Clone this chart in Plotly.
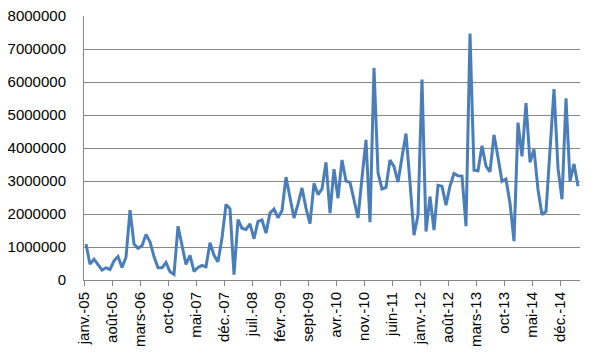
import plotly.graph_objects as go

# Monthly values, janv.-05 .. avr.-15 (124 months)
values = [
    1.09e6, 0.48e6, 0.63e6, 0.45e6, 0.30e6, 0.37e6, 0.32e6, 0.58e6, 0.71e6, 0.38e6, 0.69e6, 2.12e6,
    1.09e6, 0.96e6, 1.04e6, 1.38e6, 1.16e6, 0.71e6, 0.37e6, 0.37e6, 0.53e6, 0.25e6, 0.17e6, 1.63e6,
    1.07e6, 0.47e6, 0.75e6, 0.26e6, 0.38e6, 0.44e6, 0.40e6, 1.13e6, 0.75e6, 0.55e6, 1.27e6, 2.29e6,
    2.16e6, 0.16e6, 1.83e6, 1.57e6, 1.53e6, 1.70e6, 1.25e6, 1.78e6, 1.82e6, 1.42e6, 2.03e6, 2.15e6,
    1.89e6, 2.10e6, 3.12e6, 2.50e6, 1.88e6, 2.30e6, 2.79e6, 2.18e6, 1.71e6, 2.93e6, 2.59e6, 2.76e6,
    3.57e6, 2.03e6, 3.36e6, 2.48e6, 3.64e6, 3.00e6, 2.96e6, 2.43e6, 1.88e6, 3.10e6, 4.25e6, 1.75e6,
    6.43e6, 3.25e6, 2.76e6, 2.81e6, 3.64e6, 3.44e6, 2.97e6, 3.72e6, 4.44e6, 2.95e6, 1.36e6, 1.97e6,
    6.08e6, 1.47e6, 2.53e6, 1.51e6, 2.87e6, 2.84e6, 2.27e6, 2.85e6, 3.23e6, 3.16e6, 3.15e6, 1.63e6,
    7.47e6, 3.33e6, 3.31e6, 4.07e6, 3.45e6, 3.28e6, 4.40e6, 3.72e6, 2.99e6, 3.06e6, 2.33e6, 1.18e6,
    4.77e6, 3.75e6, 5.36e6, 3.57e6, 3.96e6, 2.74e6, 1.98e6, 2.08e6, 4.00e6, 5.79e6, 3.39e6, 2.45e6,
    5.51e6, 2.99e6, 3.52e6, 2.84e6,
]

tick_labels = ["janv.-05", "août-05", "mars-06", "oct-06", "mai-07", "déc.-07",
               "juil.-08", "févr.-09", "sept-09", "avr.-10", "nov.-10", "juin-11",
               "janv.-12", "août-12", "mars-13", "oct-13", "mai-14", "déc.-14"]
tick_step = 7

y_ticks = [0, 1000000, 2000000, 3000000, 4000000, 5000000, 6000000, 7000000, 8000000]

x = list(range(len(values)))
# ticks placed between categories (Excel "between tick marks")
tick_pos = [i * tick_step - 0.5 for i in range(len(tick_labels))]

font_family = "Liberation Sans, Arial, sans-serif"

fig = go.Figure()
fig.add_trace(go.Scatter(
    x=x, y=values, mode="lines",
    line=dict(color="#4A7EBB", width=3),
    hoverinfo="skip",
))

# page body has an 8px default margin, so the figure is shifted by 8px
fig.update_layout(
    width=584, height=349,
    margin=dict(l=76, r=12, t=8, b=77),
    paper_bgcolor="white", plot_bgcolor="white",
    showlegend=False,
    font=dict(family=font_family, size=15, color="#000000"),
)

fig.update_xaxes(
    range=[-0.5, len(values) - 0.5],
    tickmode="array", tickvals=tick_pos, ticktext=tick_labels,
    tickangle=-90,
    ticks="outside", ticklen=5, tickcolor="#868686", tickwidth=1,
    showgrid=False, zeroline=False,
    showline=True, linecolor="#868686", linewidth=1,
    automargin=False,
    tickfont=dict(family=font_family, size=15, color="#000000"),
)
fig.update_yaxes(
    range=[0, 8004000],
    tickmode="array", tickvals=y_ticks,
    ticktext=[str(v) for v in y_ticks],
    showgrid=True, gridcolor="#868686", gridwidth=1,
    zeroline=False,
    showline=True, linecolor="#868686", linewidth=1,
    ticks="", ticklabelstandoff=14,
    ticklabeloverflow="allow",
    automargin=False,
    tickfont=dict(family=font_family, size=15, color="#000000"),
)

fig.write_html("out.html")
